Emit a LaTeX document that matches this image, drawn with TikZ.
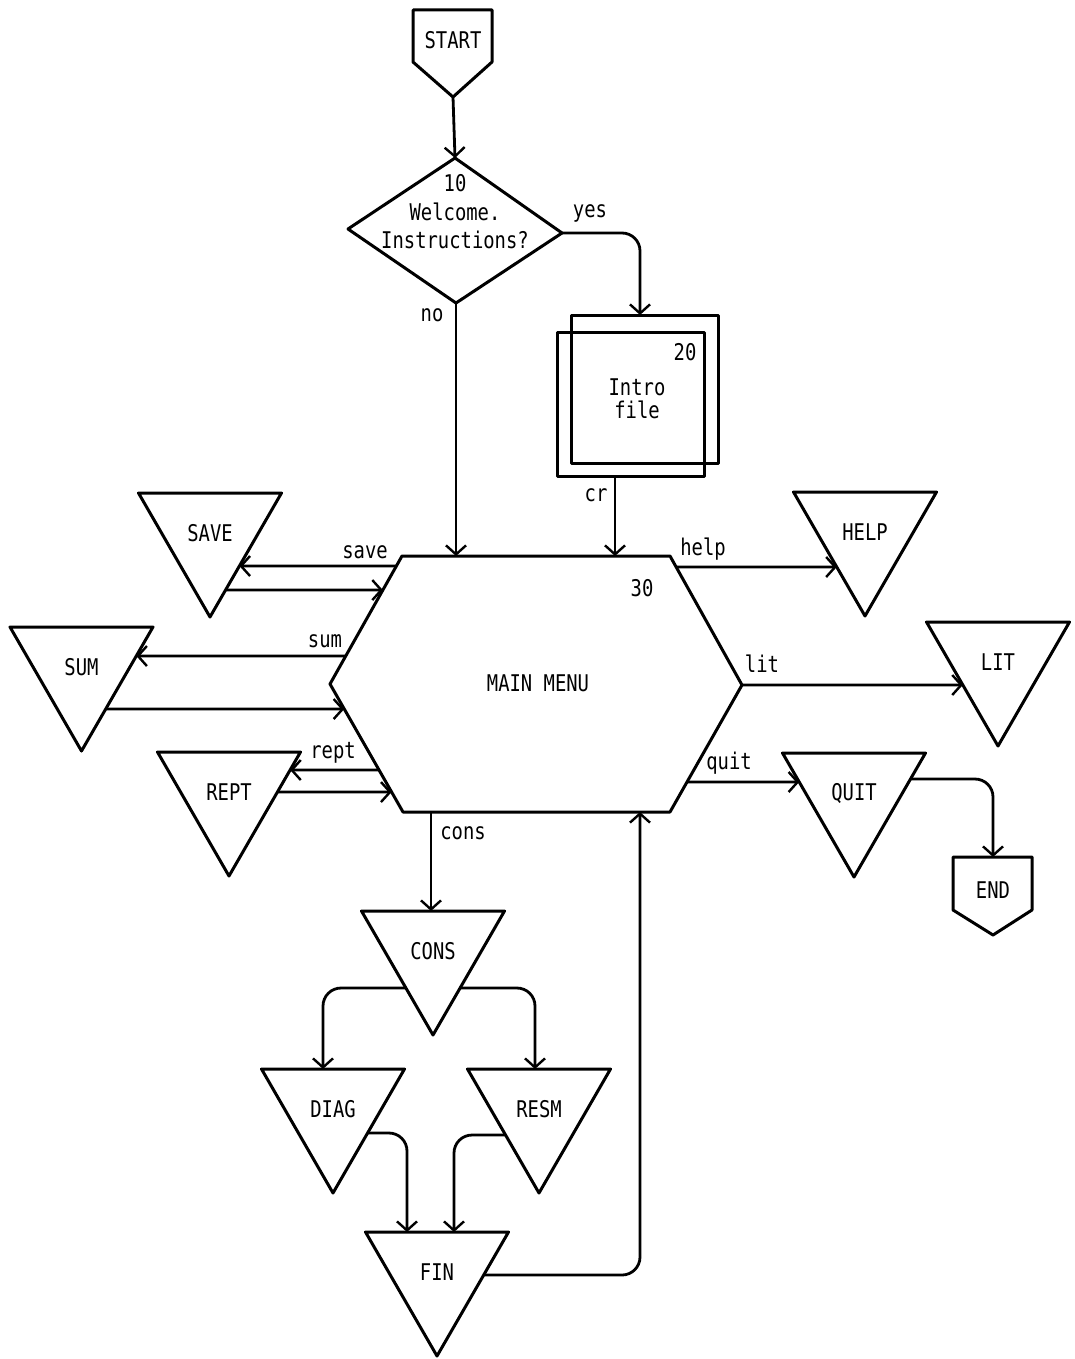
\documentclass[tikz,border=0pt]{standalone}
\usepackage{fontspec}
\newfontfamily\tfont[FakeStretch=0.82]{DejaVu Sans Mono}
\usetikzlibrary{arrows.meta,calc}
\tikzset{
  shp/.style={line width=3pt, line join=round},
  conn/.style={line width=2.8pt, rounded corners=18pt},
  arr/.style={conn, -{Straight Barb[length=9pt,width=20pt,line width=2.4pt]}},
  txt/.style={font=\tfont\fontsize{23}{26}\selectfont, inner sep=0pt},
}
\newcommand{\dtri}[4]{%
  \coordinate (#1-tl) at (#2-71.5,#3);
  \coordinate (#1-tr) at (#2+71.5,#3);
  \coordinate (#1-b) at (#2,#3+124);
  \draw[shp] (#1-tl) -- (#1-tr) -- (#1-b) -- cycle;
  \node[txt] (#1) at (#2,#3+40) {#4};}
\newcommand{\hpt}[4]{\coordinate (#1) at (intersection cs: first line={(#2)--(#3)}, second line={(0,#4)--(1,#4)});}
\begin{document}
\begin{tikzpicture}[x=1pt,y=-1pt]
\useasboundingbox[fill=white] (0,0) rectangle (1074,1359);

% START
\coordinate (st-tl) at (413,10); \coordinate (st-tr) at (492,10);
\coordinate (st-b) at (453,97);
\draw[shp] (st-tl) -- (st-tr) -- (492,62) -- (st-b) -- (413,62) -- cycle;
\node[txt] (start) at (453,40) {START};

% Diamond
\coordinate (dT) at (455,158); \coordinate (dR) at (562,233);
\coordinate (dB) at (456,303); \coordinate (dL) at (348,229);
\draw[shp] (dT) -- (dR) -- (dB) -- (dL) -- cycle;
\node[txt] (n10) at (455,183) {10};
\node[txt] (welcome) at (455,212) {Welcome.};
\node[txt] (instr) at (455,240) {Instructions?};

% Intro file
\draw[shp] (571,315) rectangle (718,463);
\draw[shp] (557,332) rectangle (704,476);
\coordinate (introT) at (640,315);
\coordinate (introB) at (615,476);
\node[txt] (n20) at (685,352) {20};
\node[txt] (intro) at (637,387) {Intro};
\node[txt] (file) at (637,410) {file};

% Hexagon
\coordinate (hexTL) at (402,556); \coordinate (hexTR) at (670,556);
\coordinate (hexR) at (742,685); \coordinate (hexBR) at (670,812);
\coordinate (hexBL) at (403,812); \coordinate (hexL) at (330,684);
\draw[shp] (hexTL) -- (hexTR) -- (hexR) -- (hexBR) -- (hexBL) -- (hexL) -- cycle;
\node[txt] (n30) at (642,588) {30};
\node[txt] (menu) at (538,683) {MAIN MENU};

% Triangles
\dtri{save}{210}{493}{SAVE}
\dtri{sum}{81.5}{627}{SUM}
\dtri{rept}{229}{752}{REPT}
\dtri{help}{865}{492}{HELP}
\dtri{lit}{998}{622}{LIT}
\dtri{quit}{854}{753}{QUIT}
\dtri{cons}{433}{911}{CONS}
\dtri{diag}{333}{1069}{DIAG}
\dtri{resm}{539}{1069}{RESM}
\dtri{fin}{437}{1232}{FIN}

% END
\coordinate (end-t) at (993,857);
\draw[shp] (953,857) -- (1032,857) -- (1032,910) -- (993,935) -- (953,910) -- cycle;
\node[txt] (endn) at (993,890) {END};

% Connectors top
\draw[arr] (st-b) -- (dT);
\draw[arr] (dR) -- (dR -| introT) -- (introT);
\node[txt] (lyes) at (590,213) {yes};
\coordinate (hexIn1) at (456,556);
\draw[arr] (dB) -- (hexIn1);
\node[txt] (lno) at (432,315) {no};
\coordinate (hexIn2) at (615,556);
\draw[arr] (introB) -- (hexIn2);
\node[txt] (lcr) at (596,495) {cr};

% Left side
\hpt{a1}{hexTL}{hexL}{566} \hpt{b1}{save-tr}{save-b}{566}
\draw[arr] (a1) -- (b1);
\node[txt] (lsave) at (365,552) {save};
\hpt{a2}{hexTL}{hexL}{590} \hpt{b2}{save-tr}{save-b}{590}
\draw[arr] (b2) -- (a2);

\hpt{a3}{hexTL}{hexL}{656} \hpt{b3}{sum-tr}{sum-b}{656}
\draw[arr] (a3) -- (b3);
\node[txt] (lsum) at (325,641) {sum};
\hpt{a4}{hexL}{hexBL}{709} \hpt{b4}{sum-tr}{sum-b}{709}
\draw[arr] (b4) -- (a4);

\hpt{a5}{hexL}{hexBL}{770} \hpt{b5}{rept-tr}{rept-b}{770}
\draw[arr] (a5) -- (b5);
\node[txt] (lrept) at (333,753) {rept};
\hpt{a6}{hexL}{hexBL}{792} \hpt{b6}{rept-tr}{rept-b}{792}
\draw[arr] (b6) -- (a6);

% Right side
\hpt{a7}{hexTR}{hexR}{567} \hpt{b7}{help-tl}{help-b}{567}
\draw[arr] (a7) -- (b7);
\node[txt] (lhelp) at (703,549) {help};
\hpt{b8}{lit-tl}{lit-b}{685}
\draw[arr] (hexR) -- (b8);
\node[txt] (llit) at (762,664) {lit};
\hpt{a9}{hexR}{hexBR}{782} \hpt{b9}{quit-tl}{quit-b}{782}
\draw[arr] (a9) -- (b9);
\node[txt] (lquit) at (729,763) {quit};
\hpt{q2}{quit-tr}{quit-b}{779}
\draw[arr] (q2) -- (q2 -| end-t) -- (end-t);

% Bottom
\coordinate (hexOut) at (431,812);
\draw[arr] (hexOut) -- (hexOut |- cons-tl);
\node[txt] (lcons) at (463,833) {cons};
\hpt{c1}{cons-tl}{cons-b}{988} \coordinate (dtop) at (323,1069);
\draw[arr] (c1) -- (c1 -| dtop) -- (dtop);
\hpt{c2}{cons-tr}{cons-b}{988} \coordinate (rtop) at (535,1069);
\draw[arr] (c2) -- (c2 -| rtop) -- (rtop);
\hpt{d1}{diag-tr}{diag-b}{1133} \coordinate (ftop1) at (407,1232);
\draw[arr] (d1) -- (d1 -| ftop1) -- (ftop1);
\hpt{r1}{resm-tl}{resm-b}{1135} \coordinate (ftop2) at (454,1232);
\draw[arr] (r1) -- (r1 -| ftop2) -- (ftop2);
\hpt{f1}{fin-tr}{fin-b}{1275} \coordinate (hexIn3) at (640,812);
\draw[arr] (f1) -- (f1 -| hexIn3) -- (hexIn3);
\end{tikzpicture}
\end{document}
